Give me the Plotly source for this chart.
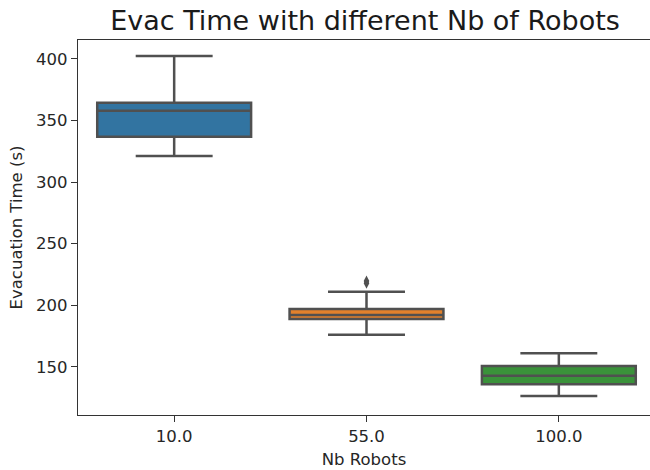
import plotly.graph_objects as go

categories = ["10.0", "55.0", "100.0"]
q1 = [336.9, 188.8, 135.7]
median = [358.0, 192.0, 142.7]
q3 = [364.5, 196.9, 150.6]
lower_whisker = [321.2, 176.0, 126.2]
upper_whisker = [402.4, 211.0, 160.9]
colors = ["#3274a1", "#e1812c", "#3a923a"]
outlier_cat = ["55.0", "55.0"]
outlier_val = [217.8, 219.6]

LINE = "rgb(80,80,80)"
FONT = "DejaVu Sans"

fig = go.Figure()
for i, c in enumerate(categories):
    fig.add_trace(go.Box(
        x=[c], q1=[q1[i]], median=[median[i]], q3=[q3[i]],
        lowerfence=[lower_whisker[i]], upperfence=[upper_whisker[i]],
        fillcolor=colors[i], line=dict(color=LINE, width=2.5),
        width=0.8, whiskerwidth=0.5, boxpoints=False, showlegend=False,
        hoverinfo="y",
    ))
fig.add_trace(go.Scatter(
    x=outlier_cat, y=outlier_val, mode="markers",
    marker=dict(symbol="diamond-tall", size=8, color=LINE),
    showlegend=False,
))

fig.update_layout(
    width=650, height=470,
    margin=dict(l=78, r=0, t=40, b=55),
    paper_bgcolor="white", plot_bgcolor="white",
    boxmode="overlay",
    font=dict(family=FONT, color="#262626"),
    title=dict(text="Evac Time with different Nb of Robots",
               x=365/650, xanchor="center", xref="container",
               y=1-21/470, yanchor="middle", yref="container",
               font=dict(size=27, family=FONT, color="#1a1a1a")),
    xaxis=dict(type="category", categoryorder="array", categoryarray=categories,
               range=[-0.5, 2.474], showline=True, mirror=True, automargin=False,
               linecolor="#333", linewidth=1.2, ticks="outside", ticklen=6,
               tickcolor="#333", showgrid=False, zeroline=False,
               tickfont=dict(size=16.5, color="#262626"),
               title=dict(text="Nb Robots", font=dict(size=16.5), standoff=8)),
    yaxis=dict(range=[110.8, 415.4], showline=True, mirror=False, automargin=False,
               linecolor="#333", linewidth=1.2, ticks="outside", ticklen=6,
               tickcolor="#333", showgrid=False, zeroline=False,
               tickvals=[150, 200, 250, 300, 350, 400],
               tickfont=dict(size=16.5, color="#262626"),
               title=dict(text="Evacuation Time (s)", font=dict(size=16.5), standoff=9)),
)

fig.write_html("out.html",
               config={"displayModeBar": False},
               post_script="document.body.style.margin='0';"
                           "document.documentElement.style.overflow='hidden';")
